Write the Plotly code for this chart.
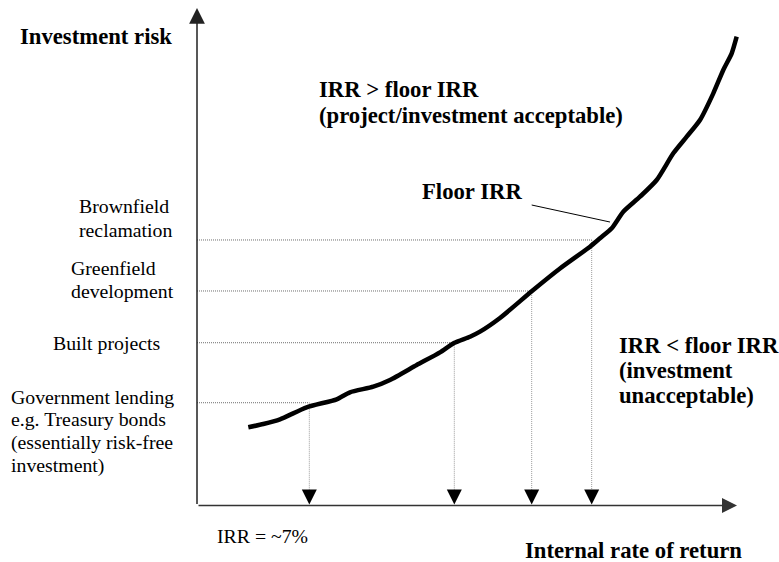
import plotly.graph_objects as go

# Risk / return curve (arbitrary units: IRR along x, investment risk along y)
curve_irr = [0.950, 1.228, 1.537, 2.031, 2.587, 2.833, 3.265, 3.574, 4.069, 4.500,
             4.759, 5.056, 5.241, 5.611, 6.204, 6.722, 7.278, 7.463, 7.680, 7.894,
             8.204, 8.513, 8.820, 9.069, 9.315, 9.561, 9.746, 9.902, 9.994]
curve_risk = [1.572, 1.638, 1.733, 1.974, 2.135, 2.275, 2.388, 2.523, 2.824, 3.079,
              3.266, 3.393, 3.494, 3.769, 4.312, 4.764, 5.202, 5.371, 5.572, 5.905,
              6.207, 6.543, 7.079, 7.413, 7.749, 8.285, 8.754, 9.089, 9.423]

# Investment classes: risk level and the IRR they require
class_names = ["Government lending", "Built projects", "Greenfield development",
               "Brownfield reclamation"]
class_risk = [2.066, 3.272, 4.312, 5.337]
class_irr = [2.080, 4.765, 6.198, 7.309]

# Leader line for the "Floor IRR" label
floor_leader_irr = [6.198, 7.648]
floor_leader_risk = [6.040, 5.698]

AXIS_MAX = 10.0
X_RANGE = [-3.6481, 10.7778]
Y_RANGE = [-1.1357, 10.1608]

SERIF = "Liberation Serif, Times New Roman, serif"
REG = 19.8
BOLD = 22.7

fig = go.Figure()

# horizontal dotted guides from the risk axis to the curve
hx, hy = [], []
for r, i in zip(class_risk, class_irr):
    hx += [0, i, None]
    hy += [r, r, None]
fig.add_trace(go.Scatter(x=hx, y=hy, mode="lines",
                         line=dict(color="#6e6e6e", width=1, dash="1px,1px"),
                         hoverinfo="skip", showlegend=False))

# vertical dotted guides from the curve down to the IRR axis
vx, vy = [], []
for r, i in zip(class_risk, class_irr):
    vx += [i, i, None]
    vy += [r, 0.25, None]
fig.add_trace(go.Scatter(x=vx, y=vy, mode="lines",
                         line=dict(color="#9a9a9a", width=1, dash="1px,1px"),
                         hoverinfo="skip", showlegend=False))

# the risk/return curve
fig.add_trace(go.Scatter(x=curve_irr, y=curve_risk, mode="lines",
                         line=dict(color="black", width=4.5, shape="spline",
                                   smoothing=0.6),
                         hoverinfo="skip", showlegend=False))

# leader line for the floor IRR label
fig.add_trace(go.Scatter(x=floor_leader_irr, y=floor_leader_risk, mode="lines",
                         line=dict(color="black", width=1),
                         hoverinfo="skip", showlegend=False))

annotations = []

# axes drawn as arrows
annotations.append(dict(x=0, y=AXIS_MAX, ax=0, ay=0, xref="x", yref="y",
                        axref="x", ayref="y", showarrow=True, arrowhead=2,
                        arrowwidth=1.5, arrowsize=2.1, arrowcolor="#222", text=""))
annotations.append(dict(x=AXIS_MAX, y=0, ax=0, ay=0, xref="x", yref="y",
                        axref="x", ayref="y", showarrow=True, arrowhead=2,
                        arrowwidth=1.5, arrowsize=2.0, arrowcolor="#333", text=""))

# arrowheads on the vertical guides
for i in class_irr:
    annotations.append(dict(x=i, y=0.02, xref="x", yref="y", ax=0, ay=-11,
                            showarrow=True, arrowhead=2, arrowwidth=1,
                            arrowsize=3.0, arrowcolor="black", text=""))

# text labels: (text, x, y, bold)
labels = [
    ("Investment risk", -3.315, 9.430, True),
    ("Brownfield", -2.222, 6.014, False),
    ("reclamation", -2.222, 5.537, False),
    ("Greenfield", -2.376, 4.767, False),
    ("development", -2.376, 4.305, False),
    ("Built projects", -2.698, 3.260, False),
    ("Government lending", -3.481, 2.189, False),
    ("e.g. Treasury bonds", -3.481, 1.738, False),
    ("(essentially risk-free", -3.481, 1.270, False),
    ("investment)", -3.481, 0.814, False),
    ("IRR = ~7%", 0.333, -0.605, False),
    ("Internal rate of return", 6.037, -0.901, True),
    ("IRR > floor IRR", 2.222, 8.365, True),
    ("(project/investment acceptable)", 2.222, 7.842, True),
    ("Floor IRR", 4.130, 6.309, True),
    ("IRR < floor IRR", 7.778, 3.219, True),
    ("(investment", 7.778, 2.717, True),
    ("unacceptable)", 7.778, 2.214, True),
]
for text, x, y, bold in labels:
    annotations.append(dict(
        x=x, y=y, xref="x", yref="y", xanchor="left", yanchor="middle",
        showarrow=False, text=f"<b>{text}</b>" if bold else text,
        font=dict(family=SERIF, size=BOLD if bold else REG, color="black")))

fig.update_layout(
    width=779, height=562,
    margin=dict(l=0, r=0, t=0, b=0),
    paper_bgcolor="white", plot_bgcolor="white",
    xaxis=dict(range=X_RANGE, visible=False, fixedrange=True),
    yaxis=dict(range=Y_RANGE, visible=False, fixedrange=True),
    annotations=annotations,
    showlegend=False,
)

fig.write_html("out.html")
